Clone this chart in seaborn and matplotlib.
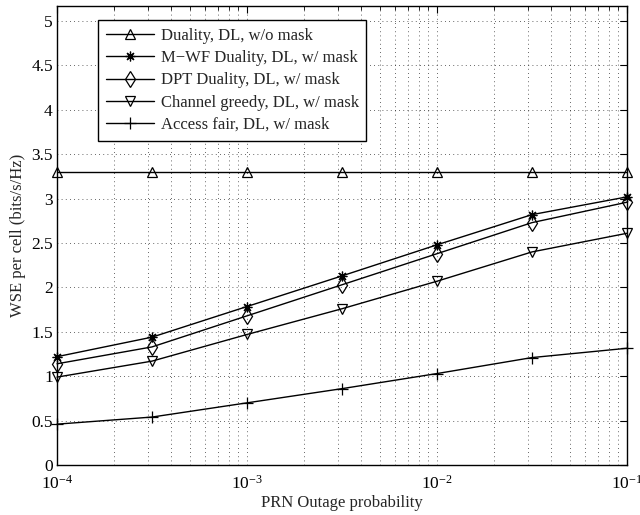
import matplotlib
matplotlib.use("Agg")
import matplotlib.pyplot as plt
import seaborn as sns
import numpy as np
from matplotlib.ticker import FixedLocator, FuncFormatter, LogLocator, NullFormatter

outage = [1e-4, 10**-3.5, 1e-3, 10**-2.5, 1e-2, 10**-1.5, 1e-1]
duality_nomask = [3.30, 3.30, 3.30, 3.30, 3.30, 3.30, 3.30]
mwf_duality = [1.22, 1.44, 1.785, 2.13, 2.48, 2.82, 3.02]
dpt_duality = [1.14, 1.33, 1.68, 2.03, 2.38, 2.73, 2.96]
channel_greedy = [0.99, 1.17, 1.47, 1.76, 2.07, 2.40, 2.61]
access_fair = [0.46, 0.54, 0.70, 0.86, 1.03, 1.21, 1.315]

labels = ["Duality, DL, w/o mask", "M\u2212WF Duality, DL, w/ mask",
          "DPT Duality, DL, w/ mask", "Channel greedy, DL, w/ mask",
          "Access fair, DL, w/ mask"]
yticks = [0, 0.5, 1, 1.5, 2, 2.5, 3, 3.5, 4, 4.5, 5]

sns.set_theme(style="white")
plt.rcParams['font.family'] = ['Liberation Serif', 'DejaVu Serif']
plt.rcParams['mathtext.fontset'] = 'custom'
plt.rcParams['mathtext.rm'] = 'Liberation Serif'
plt.rcParams['mathtext.it'] = 'Liberation Serif:italic'
plt.rcParams['mathtext.bf'] = 'Liberation Serif:bold'

fig = plt.figure(figsize=(6.4, 5.15), dpi=100)
ax = fig.add_axes([57/640, 1 - 465/515, 570/640, 459/515])

series = [duality_nomask, mwf_duality, dpt_duality, channel_greedy, access_fair]
markers = ['^', (8, 2, 0), 'd', 'v', '+']
msizes = [6.5, 7, 8, 6.5, 8]
for ys, lab, mk, ms in zip(series, labels, markers, msizes):
    sns.lineplot(x=outage, y=ys, ax=ax, color='black', linewidth=1.0,
                 marker=mk, markersize=ms, markerfacecolor='none',
                 markeredgecolor='black', markeredgewidth=0.9, label=lab,
                 clip_on=False)

ax.set_xscale('log')
ax.set_xlim(1e-4, 1e-1)
ax.set_ylim(0, 5.17)
ax.yaxis.set_major_locator(FixedLocator(yticks))
ax.yaxis.set_major_formatter(FuncFormatter(lambda v, p: f"{v:g}"))
ax.xaxis.set_major_locator(LogLocator(base=10, numticks=10))
ax.xaxis.set_minor_locator(LogLocator(base=10, subs=np.arange(2, 10), numticks=20))
ax.xaxis.set_minor_formatter(NullFormatter())

ax.grid(True, which='major', axis='both', linestyle=(0, (1, 4)), color='black', linewidth=0.6, alpha=0.8)
ax.grid(True, which='minor', axis='x', linestyle=(0, (1, 4)), color='black', linewidth=0.6, alpha=0.8)

ax.tick_params(axis='both', which='both', direction='in', top=True, right=True,
               labelsize=12.5, colors='black')
ax.tick_params(which='major', length=5, width=0.8)
ax.tick_params(which='minor', length=3, width=0.6)
ax.tick_params(axis='x', which='major', pad=7)
ax.tick_params(axis='y', which='major', pad=3)
for s in ax.spines.values():
    s.set_color('black')
    s.set_linewidth(1.0)

ax.set_xlabel("PRN Outage probability", fontsize=12, labelpad=2)
ax.set_ylabel("WSE per cell (bits/s/Hz)", fontsize=12, labelpad=4)

leg = ax.legend(loc='upper left', bbox_to_anchor=(0.072, 0.969), fontsize=12,
                frameon=True, fancybox=False, edgecolor='black', framealpha=1,
                borderpad=0.45, labelspacing=0.38, handlelength=2.9,
                handletextpad=0.4, borderaxespad=0)
leg.get_frame().set_linewidth(1.0)

fig.savefig("out.png", dpi=100)
